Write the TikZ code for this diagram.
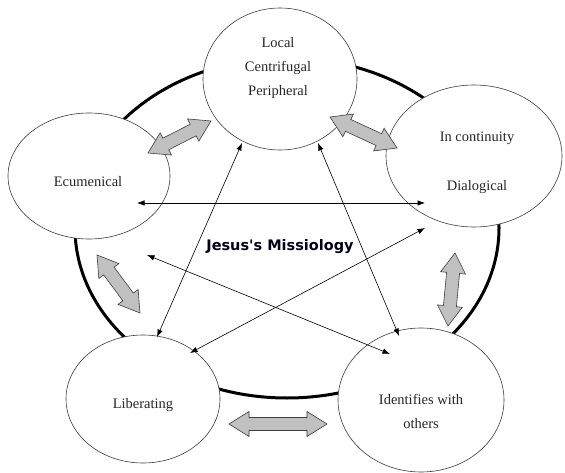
\documentclass[tikz,border=0pt]{standalone}
\usepackage{fontspec}
\setmainfont{Liberation Serif}
\newfontfamily\titlefont{DejaVu Sans}
\usetikzlibrary{shapes.geometric,arrows.meta,calc}
\definecolor{blockgray}{HTML}{C0C0C0}
\definecolor{edgegray}{HTML}{3C3C3C}
\newcommand{\blockarrow}[2]{%
  \coordinate (#1-h) at ($(#1)!20bp!(#2)$);
  \coordinate (#2-h) at ($(#2)!20bp!(#1)$);
  \draw[blockarrowstyle] (#1)
    -- ($(#1-h)!12.5bp!90:(#2)$) -- ($(#1-h)!6.5bp!90:(#2)$)
    -- ($(#2-h)!6.5bp!-90:(#1)$) -- ($(#2-h)!12.5bp!-90:(#1)$)
    -- (#2)
    -- ($(#2-h)!12.5bp!90:(#1)$) -- ($(#2-h)!6.5bp!90:(#1)$)
    -- ($(#1-h)!6.5bp!-90:(#2)$) -- ($(#1-h)!12.5bp!-90:(#2)$)
    -- cycle;}
\begin{document}
\begin{tikzpicture}[x=1bp,y=-1bp,
  bubble/.style={ellipse, draw=edgegray, line width=0.6bp, fill=white, inner sep=0pt},
  label/.style={font=\fontsize{14.5bp}{16bp}\selectfont, text=black!85, inner sep=0pt},
  thinarrow/.style={line width=0.6bp, {Latex[length=7.5bp,width=5.5bp]}-{Latex[length=7.5bp,width=5.5bp]}},
  blockarrowstyle/.style={fill=blockgray, draw=edgegray, line width=0.6bp, line join=miter}]
\useasboundingbox (0,0) rectangle (565,473);
% big ring
\node[ellipse, draw, line width=3bp, minimum width=424bp, minimum height=340bp, inner sep=0pt] (ring) at (287,228) {};
% bubbles
\node[bubble, minimum width=154bp, minimum height=142bp] (top) at (280,79) {};
\node[bubble, minimum width=162bp, minimum height=126bp] (eco) at (89,176) {};
\node[bubble, minimum width=176bp, minimum height=142bp] (dia) at (474,156) {};
\node[bubble, minimum width=154bp, minimum height=128bp] (lib) at (143,399) {};
\node[bubble, minimum width=166bp, minimum height=144bp] (ide) at (421,400) {};
% labels
\node[label] (t1) at (278,43) {Local};
\node[label] (t2) at (278,68) {Centrifugal};
\node[label] (t3) at (278,92) {Peripheral};
\node[label] (t4) at (88,182) {Ecumenical};
\node[label] (t5) at (477,138) {In continuity};
\node[label] (t6) at (477,187) {Dialogical};
\node[label] (t7) at (143,405) {Liberating};
\node[label] (t8) at (421,399) {Identifies with};
\node[label] (t9) at (421,424) {others};
\node[font=\titlefont\bfseries\fontsize{14.5bp}{16bp}\selectfont, text=black!90!blue, inner sep=0pt] (title) at (280,247) {Jesus's Missiology};
% thin arrow end points
\coordinate (ecoA) at (137,203);
\coordinate (diaA) at (425,203);
\coordinate (ecoB) at (147,255);
\coordinate (ideB) at (390,354);
\coordinate (diaC) at (425,228);
\coordinate (libC) at (190,353);
\coordinate (topD) at (242,143);
\coordinate (libD) at (157,337);
\coordinate (topE) at (318,143);
\coordinate (ideE) at (399,336);
\draw[thinarrow] (ecoA) -- (diaA);
\draw[thinarrow] (ecoB) -- (ideB);
\draw[thinarrow] (diaC) -- (libC);
\draw[thinarrow] (topD) -- (libD);
\draw[thinarrow] (topE) -- (ideE);
% block arrow end points
\coordinate (ba1) at (148,153);
\coordinate (ba2) at (211,121);
\coordinate (bb1) at (330,117);
\coordinate (bb2) at (397,148);
\coordinate (bc1) at (455,253);
\coordinate (bc2) at (448,326);
\coordinate (bd1) at (97,255);
\coordinate (bd2) at (140,313);
\coordinate (be1) at (229,424);
\coordinate (be2) at (327,424);
\blockarrow{ba1}{ba2}
\blockarrow{bb1}{bb2}
\blockarrow{bc1}{bc2}
\blockarrow{bd1}{bd2}
\blockarrow{be1}{be2}
\end{tikzpicture}
\end{document}
